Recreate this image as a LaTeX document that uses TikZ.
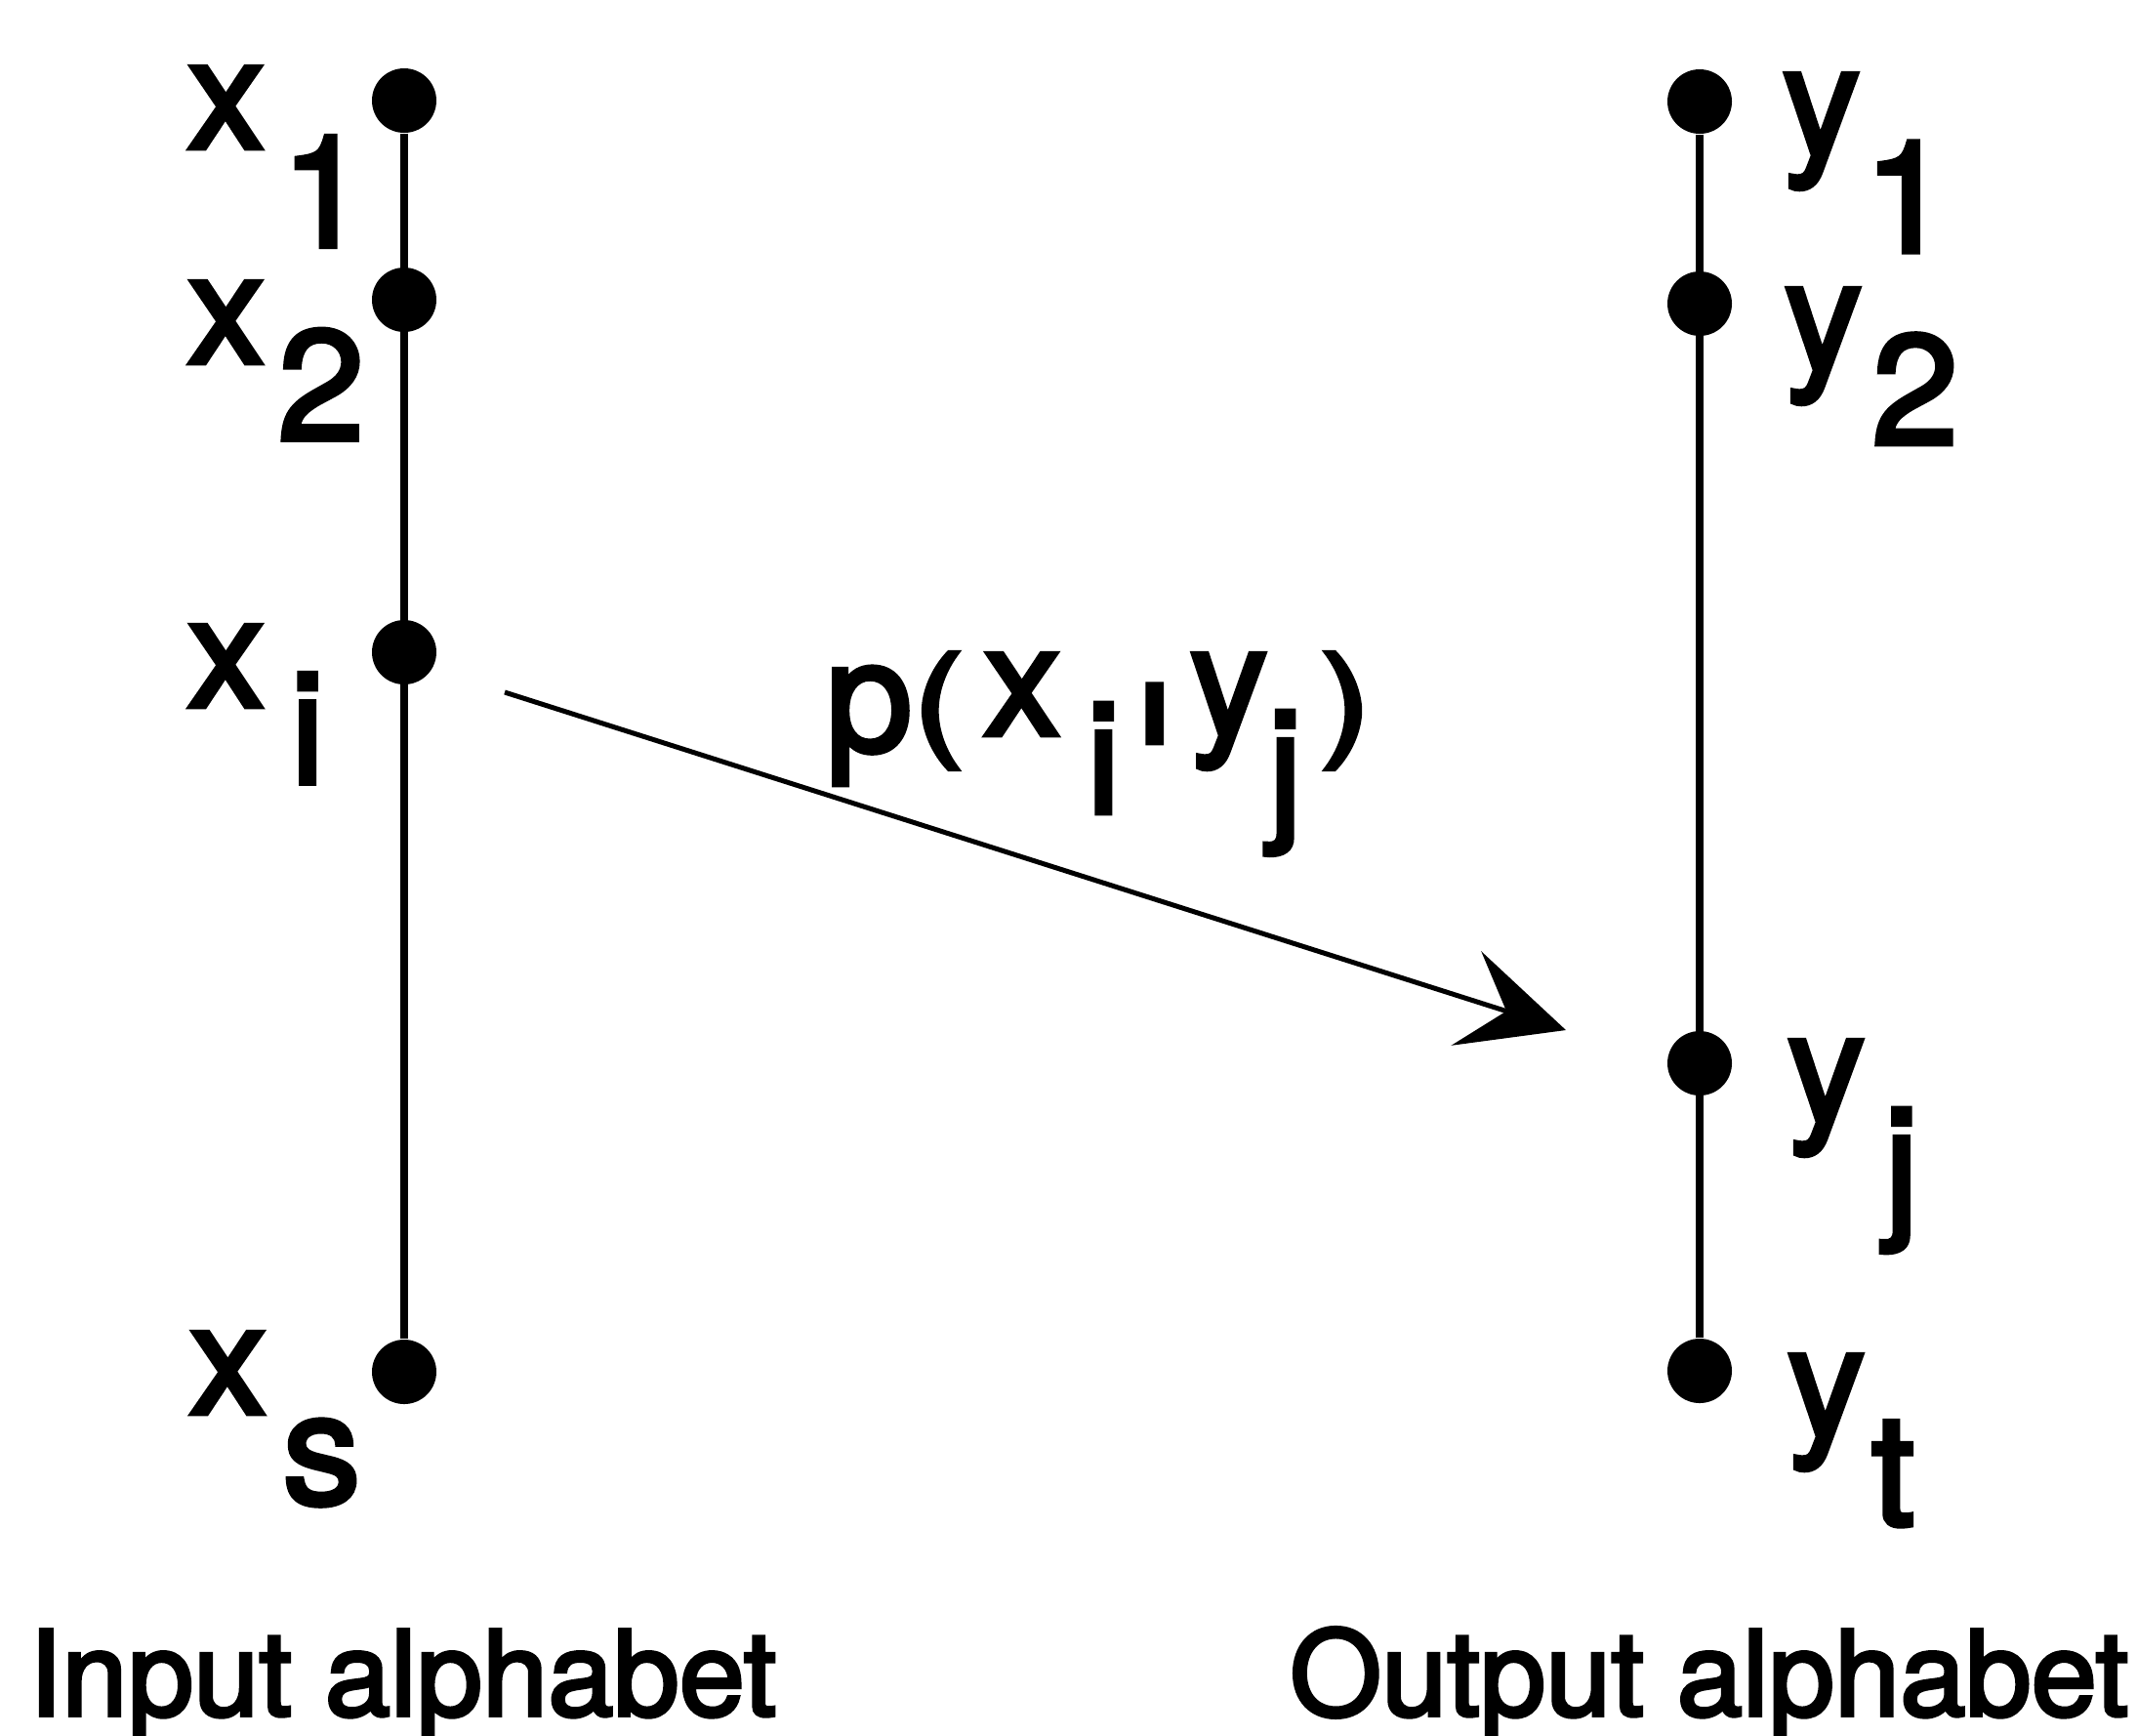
\documentclass[tikz,border=0pt]{standalone}
\usepackage{fontspec}
\setmainfont{TeX Gyre Heros}[FakeBold=3]
\usetikzlibrary{arrows.meta}
\newcommand{\lowsub}[3][0.06em]{\kern#1\raisebox{-#2}{#3}}
\newcommand{\flatchar}[2]{\raisebox{#1}{\scalebox{1}[0.8]{#2}}}

\begin{document}
\begin{tikzpicture}[x=1cm,y=1cm,
  every node/.style={inner sep=0pt},
  dot/.style={circle,fill=black,minimum size=0.66cm},
  sym/.style={anchor=base west,font=\fontsize{45.5}{50}\selectfont},
  caption/.style={font=\fontsize{34.4}{40}\selectfont},
  axis/.style={line width=0.08cm},
  chan/.style={line width=0.05cm,-{Stealth[length=1.07cm,width=1.01cm,inset=0.43cm]}}]
\useasboundingbox (0,0) rectangle (21.89,-17.77);
\node[dot] (x1) at (4.14,-1.03) {};
\node[dot] (x2) at (4.14,-3.07) {};
\node[dot] (xi) at (4.14,-6.68) {};
\node[dot] (xs) at (4.14,-14.05) {};
\draw[axis] (x1) -- (xs);
\node[dot] (y1) at (17.41,-1.04) {};
\node[dot] (y2) at (17.41,-3.11) {};
\node[dot] (yj) at (17.41,-10.89) {};
\node[dot] (yt) at (17.41,-14.04) {};
\draw[axis] (y1) -- (yt);
\node[sym] (lx1) at (1.91,-1.52) {x\lowsub[0.1em]{0.63em}{1}};
\node[sym] (lx2) at (1.91,-3.72) {x\lowsub[0.08em]{0.49em}{2}};
\node[sym] (lxi) at (1.91,-7.24) {x\lowsub[0.16em]{0.49em}{i}};
\node[sym] (lxs) at (1.93,-14.48) {x\lowsub[0.1em]{0.575em}{s}};
\node[sym] (ly1) at (18.25,-1.59) {y\lowsub[0.02em]{0.62em}{1}};
\node[sym] (ly2) at (18.27,-3.79) {y\lowsub[0.06em]{0.475em}{2}};
\node[sym] (lyj) at (18.30,-11.49) {y\lowsub[0.12em]{0.62em}{j}};
\node[sym] (lyt) at (18.30,-14.71) {y\lowsub[0.04em]{0.57em}{t}};
\coordinate (from) at (5.17,-7.09);
\coordinate (to) at (16.04,-10.55);
\draw[chan] (from) -- (to);
\node[sym] (plabel) at (8.45,-7.53) {\raisebox{-0.1em}{p}\flatchar{-0.05em}{(}\kern0.12em x\lowsub[0.16em]{0.5em}{i}\kern0.06em\raisebox{0.03em}{\scalebox{1.2}[0.42]{|}}\kern0.07em y\lowsub[0em]{0.55em}{j}\kern0.11em\flatchar{-0.05em}{)}};
\node[caption,anchor=base west] (inlabel) at (0.29,-17.57) {Input alphabet};
\node[caption,anchor=base east] (outlabel) at (21.81,-17.57) {Output alphabet};
\end{tikzpicture}
\end{document}
